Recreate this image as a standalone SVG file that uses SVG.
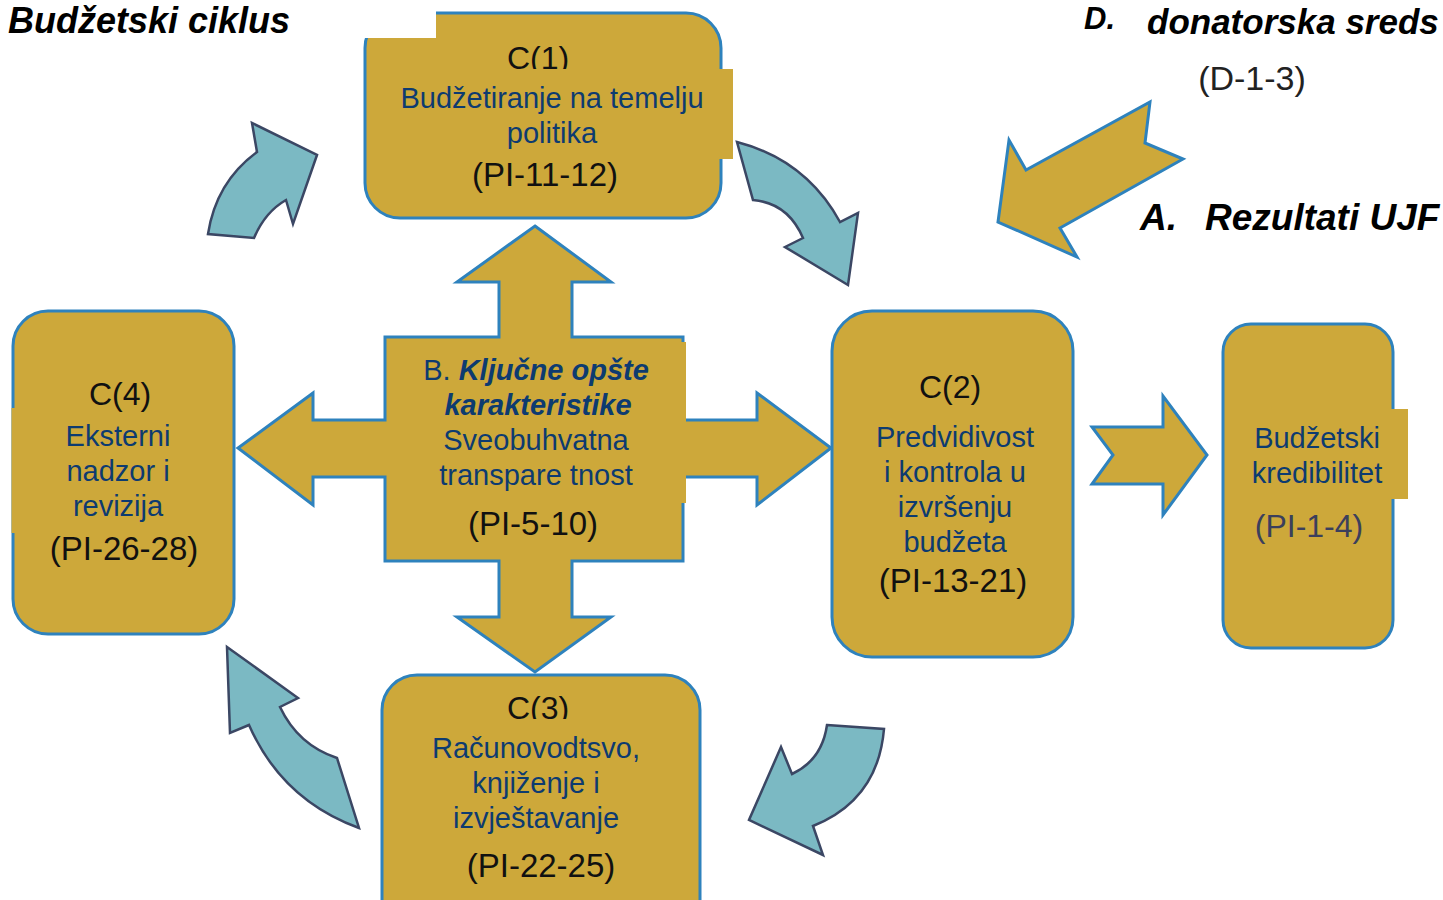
<svg xmlns="http://www.w3.org/2000/svg" width="1443" height="900" viewBox="0 0 1443 900">
<style>
.box{fill:#cda83a;stroke:#2e82bd;stroke-width:3}
.gold{fill:#cda83a;stroke:#2e82bd;stroke-width:3;stroke-linejoin:miter}
.pad{fill:#cda83a;stroke:none}
.teal{fill:#7bb9c3;stroke:#3b4764;stroke-width:2.5;stroke-linejoin:miter}
text{font-family:"Liberation Sans",Arial,sans-serif;text-anchor:middle}
.b{fill:#0d3b70;font-size:29px}
.k{fill:#111;font-size:33px}
.c{fill:#111;font-size:32px}
.h{fill:#000;font-weight:bold;font-style:italic;text-anchor:start}
</style>
<rect width="1443" height="900" fill="#fff"/>
<g id="title">
<text class="h" x="8" y="33" font-size="36">Budžetski ciklus</text>
</g>
<g id="labelD">
<text class="h" x="1084" y="29" font-size="31">D.</text>
<text class="h" x="1147" y="34" font-size="35">donatorska sreds</text>
<text x="1252" y="90" font-size="34" fill="#222">(D-1-3)</text>
</g>
<g id="labelA">
<text class="h" x="1140" y="230" font-size="37">A.</text>
<text class="h" x="1205" y="230" font-size="37">Rezultati UJF</text>
</g>
<g id="connectors">
<path class="teal" d="M317,155 L293,224 L286,200 Q265,212 254,238 L208,234 Q216,182 257,152 L252,123 Z"/>
<path class="teal" d="M737,142 Q806,160 840,222 L858,213 L848,285 L785,247 L803,238 Q788,203 753,200 Z"/>
<path class="teal" d="M827,725 L884,729 Q878,800 813,826 L823,855 L749,820 L781,747 L792,774 Q822,760 827,725 Z"/>
<path class="teal" d="M227,647 L298,698 L280,707 Q298,745 337,758 L359,828 Q282,800 249,725 L230,733 Z"/>
<path class="gold" d="M998,222 L1009,140 L1026,170 L1150,102 L1145,143 L1183,159 L1060,228 L1077,257 Z"/>
<path class="gold" d="M1092,427 L1163,427 L1163,396 L1207,455 L1163,515 L1163,484 L1092,484 L1113,455 Z"/>
</g>
<g id="C1">
<rect class="box" x="365" y="13" width="356" height="205" rx="35"/>
<rect x="355" y="0" width="81" height="38" fill="#fff"/>
<text class="c" x="538" y="69">C(1)</text>
<rect class="pad" x="372" y="69" width="361" height="90"/>
<text class="b" x="552" y="108">Budžetiranje na temelju</text>
<text class="b" x="552" y="143">politika</text>
<text class="k" x="545" y="186">(PI-11-12)</text>
</g>
<g id="B">
<path class="gold" d="M535,226 L611,282 L572,282 L572,337 L683,337 L683,420 L757,420 L757,393 L831,448 L757,505 L757,477 L683,477 L683,561 L572,561 L572,617 L611,617 L535,672 L457,617 L499,617 L499,561 L385,561 L385,477 L313,477 L313,505 L238,448 L313,393 L313,420 L385,420 L385,337 L499,337 L499,282 L457,282 Z"/>
<rect class="pad" x="387" y="342" width="299" height="161"/>
<text class="b" x="536" y="380">B. <tspan font-weight="bold" font-style="italic">Ključne opšte</tspan></text>
<text class="b" x="538" y="415" font-weight="bold" font-style="italic">karakteristike</text>
<text class="b" x="536" y="450">Sveobuhvatna</text>
<text class="b" x="536" y="485">transpare tnost</text>
<text class="k" x="533" y="535">(PI-5-10)</text>
</g>
<g id="C4">
<rect class="box" x="13" y="311" width="221" height="323" rx="35"/>
<rect class="pad" x="11.5" y="408" width="4" height="125"/>
<text class="c" x="120" y="405">C(4)</text>
<text class="b" x="118" y="446">Eksterni</text>
<text class="b" x="118" y="481">nadzor i</text>
<text class="b" x="118" y="516">revizija</text>
<text class="k" x="124" y="560">(PI-26-28)</text>
</g>
<g id="C2">
<rect class="box" x="832" y="311" width="241" height="346" rx="40"/>
<text class="c" x="950" y="398">C(2)</text>
<text class="b" x="955" y="447">Predvidivost</text>
<text class="b" x="955" y="482">i kontrola u</text>
<text class="b" x="955" y="517">izvršenju</text>
<text class="b" x="955" y="552">budžeta</text>
<text class="k" x="953" y="592">(PI-13-21)</text>
</g>
<g id="C5">
<rect class="box" x="1223" y="324" width="170" height="324" rx="28"/>
<rect class="pad" x="1232" y="409" width="176" height="90"/>
<text class="b" x="1317" y="448">Budžetski</text>
<text class="b" x="1317" y="483">kredibilitet</text>
<text x="1309" y="537" font-size="32" fill="#3b3f5c">(PI-1-4)</text>
</g>
<g id="C3">
<rect class="box" x="382" y="675" width="318" height="260" rx="35"/>
<text class="c" x="538" y="719">C(3)</text>
<rect class="pad" x="392" y="719" width="298" height="120"/>
<text class="b" x="536" y="758">Računovodtsvo,</text>
<text class="b" x="536" y="793">knjiženje i</text>
<text class="b" x="536" y="828">izvještavanje</text>
<text class="k" x="541" y="877">(PI-22-25)</text>
</g>
</svg>
